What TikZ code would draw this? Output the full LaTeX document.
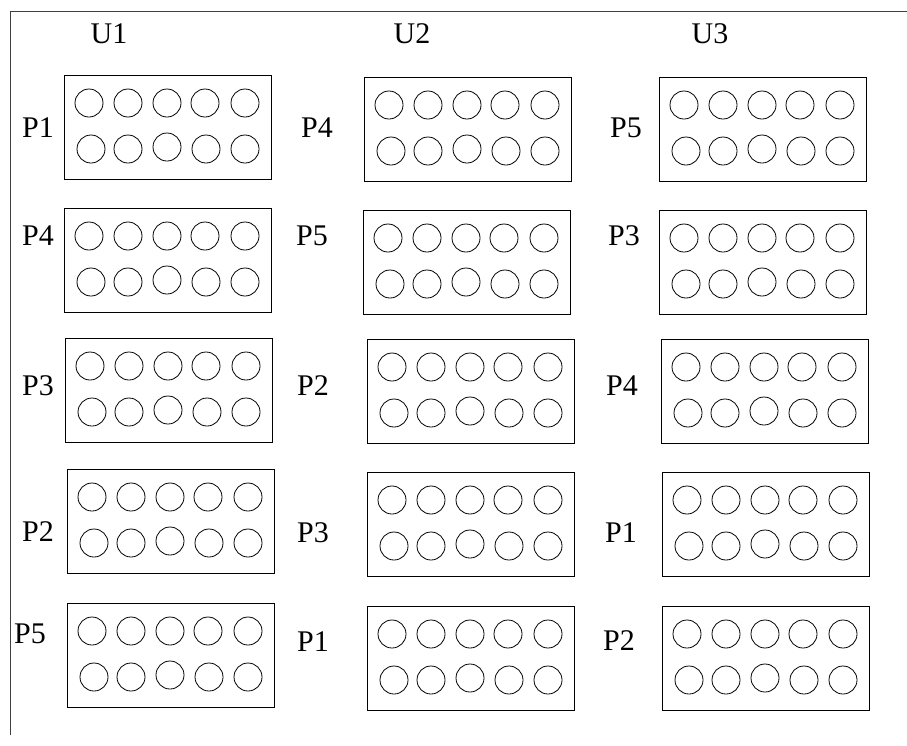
\documentclass[tikz,border=0pt]{standalone}
\usepackage{fontspec}
\setmainfont{Liberation Serif}
\begin{document}
\begin{tikzpicture}[x=1pt,y=-1pt,
  panel/.style={draw, line width=0.9pt, minimum width=207pt, minimum height=104pt, anchor=north west, inner sep=0pt},
  well/.style={draw, circle, line width=0.8pt, minimum size=28pt, inner sep=0pt},
  lbl/.style={font=\fontsize{30}{36}\selectfont, anchor=base, inner sep=0pt},
  frameline/.style={draw=black!75, line width=0.9pt}]
\useasboundingbox (0,0) rectangle (907,745);
\coordinate (fbl) at (10.5,735);
\coordinate (ftl) at (10.5,11.5);
\coordinate (ftr) at (907,11.5);
\draw[frameline] (fbl) -- (ftl) -- (ftr);
\foreach \n/\px/\py in {11/64/75, 12/364/77, 13/659/77,
                        21/64/208, 22/363/210, 23/659/210,
                        31/65/338, 32/367/339, 33/661/339,
                        41/67/469, 42/367/472, 43/662/472,
                        51/67/603, 52/367/606, 53/662/606} {
  \node[panel] (b\n) at (\px,\py) {};
  \foreach \i/\dx/\dy in {1/25/28, 2/64/28, 3/103/28, 4/141/28, 5/181/28,
                          6/27/74, 7/64/74, 8/103/72, 9/142/74, 10/181/74}
    \node[well] (b\n w\i) at ([shift={(\dx,\dy)}]b\n.north west) {};
}
\node[lbl] (u1) at (109,43) {U1};
\node[lbl] (u2) at (412,43) {U2};
\node[lbl] (u3) at (710,43) {U3};
\foreach \n/\px/\py/\t in {11/38/137/P1, 12/317/137/P4, 13/626/137/P5,
                           21/38/245/P4, 22/312/245/P5, 23/624/245/P3,
                           31/38/395/P3, 32/313/395/P2, 33/622/395/P4,
                           41/38/541/P2, 42/313/542/P3, 43/621/542/P1,
                           51/30/643/P5, 52/313/651/P1, 53/619/650/P2}
  \node[lbl] (l\n) at (\px,\py) {\t};
\end{tikzpicture}
\end{document}
